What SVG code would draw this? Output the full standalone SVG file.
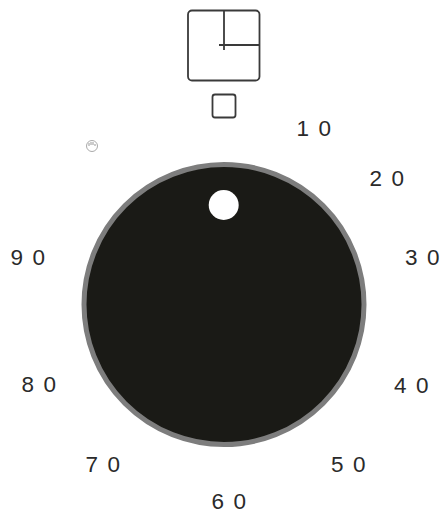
<svg xmlns="http://www.w3.org/2000/svg" width="444" height="514" viewBox="0 0 444 514">
<style>
.o{fill:none;stroke:#3a3a3a;stroke-width:1.800}
.t{font-family:"Liberation Sans",Arial,sans-serif;font-size:22.500px;fill:#2a2a2a}
</style>
<rect width="444" height="514" fill="#fff"/>
<g id="clock-icon">
<rect class="o" x="188" y="10.500" width="71.500" height="70" rx="4"/>
<path class="o" d="M224 10.500V50M219 45H259.500"/>
</g>
<g id="small-square"><rect class="o" x="212.500" y="94.500" width="23" height="23" rx="2.500"/></g>
<g id="hand-icon" fill="none" stroke="#aaa" stroke-width="1"><circle cx="92" cy="146" r="5.500"/><path d="M89 146v-3M91 145v-3M93 145v-3M95 146v-2" stroke="#999"/></g>
<g id="dial">
<circle cx="224" cy="304.500" r="140" fill="#1a1a16" stroke="#7d7d7d" stroke-width="5"/>
<circle cx="223.700" cy="205" r="15" fill="#fff"/>
</g>
<g id="labels" class="t">
<text x="296.500" y="136">1<tspan dx="9.500">0</tspan></text>
<text x="369.500" y="186">2<tspan dx="9.500">0</tspan></text>
<text x="405" y="264.500">3<tspan dx="9.500">0</tspan></text>
<text x="394" y="392.500">4<tspan dx="9.500">0</tspan></text>
<text x="331" y="472">5<tspan dx="9.500">0</tspan></text>
<text x="211.500" y="509">6<tspan dx="9.500">0</tspan></text>
<text x="85.500" y="472">7<tspan dx="9.500">0</tspan></text>
<text x="21.500" y="392">8<tspan dx="9.500">0</tspan></text>
<text x="10.500" y="265">9<tspan dx="9.500">0</tspan></text>
</g>
</svg>
